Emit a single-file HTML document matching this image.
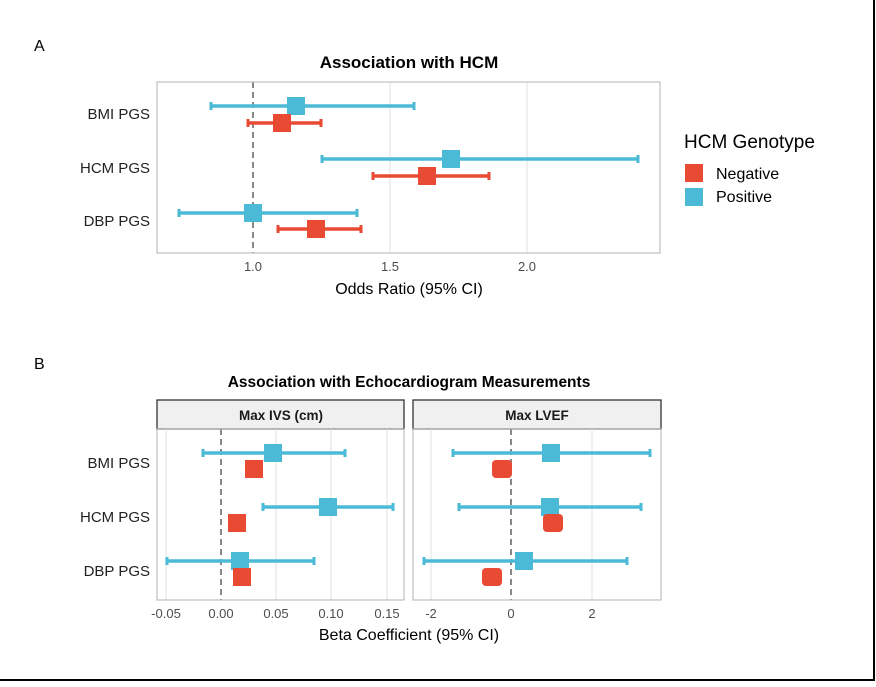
<!DOCTYPE html>
<html><head><style>body{margin:0;background:#fff}</style></head><body>
<svg width="876" height="682" xmlns="http://www.w3.org/2000/svg" font-family="Liberation Sans, sans-serif">
<rect width="876" height="682" fill="#fff"/>
<line x1="874" y1="0" x2="874" y2="681" stroke="#000" stroke-width="2"/>
<line x1="0" y1="680" x2="875" y2="680" stroke="#000" stroke-width="2"/>
<text x="34" y="51" font-size="16">A</text>
<text x="34" y="369" font-size="16">B</text>
<text x="409" y="68" font-size="17" font-weight="bold" text-anchor="middle">Association with HCM</text>
<!-- panel A -->
<g stroke="#ebebeb" stroke-width="1.5"><line x1="390" y1="82" x2="390" y2="253"/><line x1="527" y1="82" x2="527" y2="253"/></g>
<line x1="253" y1="82" x2="253" y2="253" stroke="#888" stroke-width="2" stroke-dasharray="6,4"/>
<rect x="157" y="82" width="503" height="171" fill="none" stroke="#b3b3b3"/>
<g font-size="15" fill="#222" text-anchor="end"><text x="150" y="119">BMI PGS</text><text x="150" y="173">HCM PGS</text><text x="150" y="226">DBP PGS</text></g>
<g font-size="13" fill="#4d4d4d" text-anchor="middle"><text x="253" y="271">1.0</text><text x="390" y="271">1.5</text><text x="527" y="271">2.0</text></g>
<text x="409" y="294" font-size="16" text-anchor="middle">Odds Ratio (95% CI)</text>
<g stroke-width="3.5">
<g stroke="#4bbad6"><line x1="211" y1="106" x2="414" y2="106"/><line x1="322" y1="159" x2="638" y2="159"/><line x1="179" y1="213" x2="357" y2="213"/></g>
<g stroke="#e84a33"><line x1="248" y1="123" x2="321" y2="123"/><line x1="373" y1="176" x2="489" y2="176"/><line x1="278" y1="229" x2="361" y2="229"/></g>
</g>
<g stroke-width="3">
<g stroke="#4bbad6"><line x1="211" y1="102" x2="211" y2="110"/><line x1="414" y1="102" x2="414" y2="110"/><line x1="322" y1="155" x2="322" y2="163"/><line x1="638" y1="155" x2="638" y2="163"/><line x1="179" y1="209" x2="179" y2="217"/><line x1="357" y1="209" x2="357" y2="217"/></g>
<g stroke="#e84a33"><line x1="248" y1="119" x2="248" y2="127"/><line x1="321" y1="119" x2="321" y2="127"/><line x1="373" y1="172" x2="373" y2="180"/><line x1="489" y1="172" x2="489" y2="180"/><line x1="278" y1="225" x2="278" y2="233"/><line x1="361" y1="225" x2="361" y2="233"/></g>
</g>
<g fill="#4bbad6"><rect x="287" y="97" width="18" height="18"/><rect x="442" y="150" width="18" height="18"/><rect x="244" y="204" width="18" height="18"/></g>
<g fill="#e84a33"><rect x="273" y="114" width="18" height="18"/><rect x="418" y="167" width="18" height="18"/><rect x="307" y="220" width="18" height="18"/></g>
<!-- legend -->
<text x="684" y="148" font-size="19">HCM Genotype</text>
<rect x="685" y="164" width="18" height="18" fill="#e84a33"/>
<rect x="685" y="188" width="18" height="18" fill="#4bbad6"/>
<text x="716" y="179" font-size="16">Negative</text>
<text x="716" y="202" font-size="16">Positive</text>
<!-- panel B -->
<text x="409" y="387" font-size="15.5" font-weight="bold" text-anchor="middle">Association with Echocardiogram Measurements</text>
<rect x="157" y="400" width="247" height="29" fill="#f0f0f0" stroke="#333" stroke-width="1.3"/>
<rect x="413" y="400" width="248" height="29" fill="#f0f0f0" stroke="#333" stroke-width="1.3"/>
<text x="281" y="420" font-size="13.5" font-weight="bold" text-anchor="middle" fill="#1a1a1a">Max IVS (cm)</text>
<text x="537" y="420" font-size="13.5" font-weight="bold" text-anchor="middle" fill="#1a1a1a">Max LVEF</text>
<g stroke="#ebebeb" stroke-width="1.5"><line x1="166" y1="429" x2="166" y2="600"/><line x1="276" y1="429" x2="276" y2="600"/><line x1="331" y1="429" x2="331" y2="600"/><line x1="387" y1="429" x2="387" y2="600"/><line x1="431" y1="429" x2="431" y2="600"/><line x1="592" y1="429" x2="592" y2="600"/></g>
<g stroke="#888" stroke-width="2" stroke-dasharray="6,4"><line x1="221" y1="429" x2="221" y2="600"/><line x1="511" y1="429" x2="511" y2="600"/></g>
<rect x="157" y="429" width="247" height="171" fill="none" stroke="#b3b3b3"/>
<rect x="413" y="429" width="248" height="171" fill="none" stroke="#b3b3b3"/>
<g font-size="15" fill="#222" text-anchor="end"><text x="150" y="468">BMI PGS</text><text x="150" y="522">HCM PGS</text><text x="150" y="576">DBP PGS</text></g>
<g font-size="13" fill="#4d4d4d" text-anchor="middle"><text x="166" y="618">-0.05</text><text x="221" y="618">0.00</text><text x="276" y="618">0.05</text><text x="331" y="618">0.10</text><text x="387" y="618">0.15</text><text x="431" y="618">-2</text><text x="511" y="618">0</text><text x="592" y="618">2</text></g>
<text x="409" y="640" font-size="16" text-anchor="middle">Beta Coefficient (95% CI)</text>
<g stroke="#4bbad6" stroke-width="3.5"><line x1="203" y1="453" x2="345" y2="453"/><line x1="263" y1="507" x2="393" y2="507"/><line x1="167" y1="561" x2="314" y2="561"/><line x1="453" y1="453" x2="650" y2="453"/><line x1="459" y1="507" x2="641" y2="507"/><line x1="424" y1="561" x2="627" y2="561"/></g>
<g stroke="#4bbad6" stroke-width="3"><line x1="203" y1="449" x2="203" y2="457"/><line x1="345" y1="449" x2="345" y2="457"/><line x1="263" y1="503" x2="263" y2="511"/><line x1="393" y1="503" x2="393" y2="511"/><line x1="167" y1="557" x2="167" y2="565"/><line x1="314" y1="557" x2="314" y2="565"/><line x1="453" y1="449" x2="453" y2="457"/><line x1="650" y1="449" x2="650" y2="457"/><line x1="459" y1="503" x2="459" y2="511"/><line x1="641" y1="503" x2="641" y2="511"/><line x1="424" y1="557" x2="424" y2="565"/><line x1="627" y1="557" x2="627" y2="565"/></g>
<g fill="#4bbad6"><rect x="264" y="444" width="18" height="18"/><rect x="319" y="498" width="18" height="18"/><rect x="231" y="552" width="18" height="18"/><rect x="542" y="444" width="18" height="18"/><rect x="541" y="498" width="18" height="18"/><rect x="515" y="552" width="18" height="18"/></g>
<g fill="#e84a33"><rect x="245" y="460" width="18" height="18"/><rect x="228" y="514" width="18" height="18"/><rect x="233" y="568" width="18" height="18"/><rect x="492" y="460" width="20" height="18" rx="4"/><rect x="543" y="514" width="20" height="18" rx="4"/><rect x="482" y="568" width="20" height="18" rx="4"/></g>
</svg>
</body></html>
